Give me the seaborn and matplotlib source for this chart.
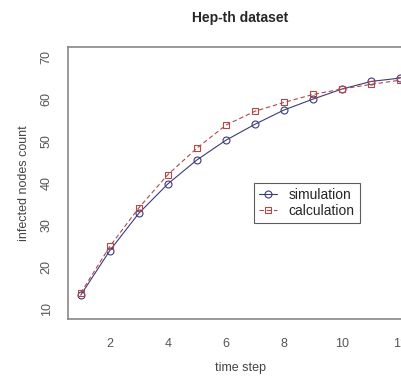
import matplotlib
matplotlib.use("Agg")
import matplotlib.pyplot as plt
import seaborn as sns
import pandas as pd

time_step = [1, 2, 3, 4, 5, 6, 7, 8, 9, 10, 11, 12]
simulation = [13.3, 23.9, 32.8, 39.8, 45.5, 50.2, 54.0, 57.4, 60.0, 62.4, 64.2, 65.0]
calculation = [13.8, 24.9, 34.1, 42.0, 48.3, 53.8, 57.1, 59.2, 61.1, 62.4, 63.5, 64.5]
x_ticks = [2, 4, 6, 8, 10, 12]
y_ticks = [10, 20, 30, 40, 50, 60, 70]

sns.set_style("white")
plt.rcParams['font.family'] = ['Liberation Sans', 'DejaVu Sans']

fig = plt.figure(figsize=(4.02, 3.76), dpi=100)
ax = fig.add_axes([68/402, 57/376, 345/402, 272/376])

sim_col = "#3b3b7c"
calc_col = "#b04848"

sns.lineplot(x=time_step, y=simulation, ax=ax, color=sim_col, lw=0.8,
             marker="o", markersize=5, markerfacecolor="none",
             markeredgecolor=sim_col, markeredgewidth=0.8, label="simulation")
sns.lineplot(x=time_step, y=calculation, ax=ax, color=calc_col, lw=0.8,
             linestyle=(0, (4, 2.5)), marker="s", markersize=5,
             markerfacecolor="none", markeredgecolor=calc_col,
             markeredgewidth=0.8, label="calculation")

ax.set_xlim(0.56, 12.44)
ax.set_ylim(7.6, 72.4)
ax.set_xticks(x_ticks)
ax.set_yticks(y_ticks)
ax.set_yticklabels([str(v) for v in y_ticks], rotation=90, va="center")
ax.tick_params(axis="both", direction="out", length=5, width=0.8,
               color="#555555", labelcolor="#555555", labelsize=9)
ax.tick_params(axis="x", pad=9)
ax.tick_params(axis="y", pad=6)
for s in ax.spines.values():
    s.set_color("#888888")
    s.set_linewidth(1.2)

ax.set_xlabel("time step", fontsize=9, color="#444444", labelpad=8)
ax.set_ylabel("infected nodes count", fontsize=9, color="#444444", labelpad=8)
ax.set_title("Hep-th dataset", fontsize=10, fontweight="bold", pad=18)

leg = ax.legend(loc="upper left", bbox_to_anchor=((254-68)/345, 1-(183-47)/272),
                frameon=True, fancybox=False, fontsize=10, handlelength=1.3,
                borderpad=0.35, labelspacing=0.15, handletextpad=0.85,
                borderaxespad=0)
leg.get_frame().set_edgecolor("#333333")
leg.get_frame().set_linewidth(0.8)

fig.savefig("out.png", dpi=100)
